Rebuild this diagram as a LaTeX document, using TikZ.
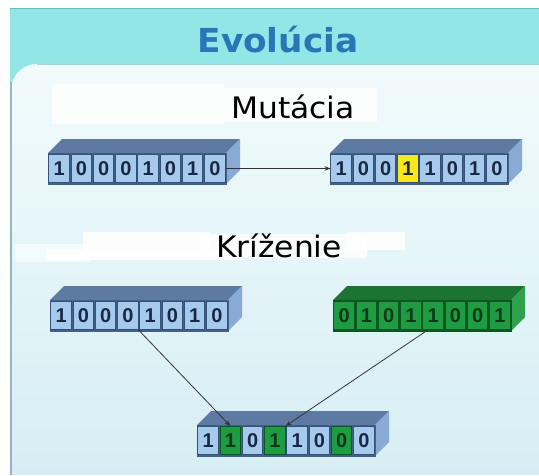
\documentclass[tikz,border=0pt]{standalone}
\usepackage{fontspec}
\setmainfont{DejaVu Sans}
\newfontfamily\digitfont{Liberation Sans}
\usetikzlibrary{arrows.meta,calc}

\definecolor{headteal}{RGB}{146,230,230}
\definecolor{headedge}{RGB}{108,188,198}
\definecolor{panelhi}{RGB}{242,251,252}
\definecolor{panello}{RGB}{214,238,243}
\definecolor{panelline}{RGB}{150,180,196}
\definecolor{titleblue}{RGB}{40,118,182}
\definecolor{cellblue}{RGB}{166,202,236}
\definecolor{celledge}{RGB}{52,80,118}
\definecolor{frameblue}{RGB}{66,96,136}
\definecolor{topblue}{RGB}{92,122,162}
\definecolor{sideblue}{RGB}{138,170,214}
\definecolor{digit}{RGB}{26,40,72}
\definecolor{cellgreen}{RGB}{30,156,66}
\definecolor{greenedge}{RGB}{12,86,34}
\definecolor{topgreen}{RGB}{28,116,50}
\definecolor{sidegreen}{RGB}{46,160,78}
\definecolor{greendigit}{RGB}{10,56,24}
\definecolor{cellyellow}{RGB}{246,232,28}

\tikzset{
  cell/.style={draw, line width=0.9pt, minimum width=20.4pt, minimum height=28pt,
    inner sep=0pt, font=\digitfont\fontsize{20}{20}\selectfont\bfseries},
  cb/.style={fill=cellblue, draw=celledge, text=digit},
  cy/.style={fill=cellyellow, draw=celledge, text=digit},
  cg/.style={fill=cellgreen, draw=greenedge, text=greendigit},
  conn/.style={draw=black!80, line width=0.8pt, -{Stealth[length=6pt,width=4.5pt]}},
  patch/.style={fill=white, opacity=0.85},
  heading/.style={anchor=base, font=\fontsize{29.6}{30}\selectfont, xscale=1.06}
}

% 3-D register: #1 name, #2 x, #3 y (front top-left), #4 top, #5 side, #6 frame, #7 bits
\newcommand\register[7]{%
  \fill[#4] (#2,#3) -- ++(14,-14) -- ++(178,0) -- ++(-14,14) -- cycle;
  \fill[#5] (#2+178,#3) -- ++(14,-14) -- ++(0,31) -- ++(-14,14) -- cycle;
  \draw[#6, fill=#6] (#2,#3) rectangle ++(178,31);
  \foreach \b/\c [count=\i] in {#7}
    \node[cell, \c] (#1\i) at ({#2+(\i-0.5)*22.25},{#3+15.5}) {\b};
}

\begin{document}
\begin{tikzpicture}[x=1pt, y=-1pt]
\useasboundingbox (0,0) rectangle (539,475);
\fill[white] (0,0) rectangle (539,475);

% header band and content panel
\fill[headteal] (10,8) rectangle (539,100);
\draw[headedge, line width=1pt] (10,8.5) -- (539,8.5);
\shade[top color=panelhi, bottom color=panello]
  (11,475) [rounded corners=26pt] -- (11,64) [sharp corners] -- (539,64) -- (539,475) -- cycle;
\draw[headedge!60, line width=0.8pt] (37,64) -- (539,64);
\draw[panelline, line width=1.5pt] (11,82) -- (11,475);

% white patches behind the headings
\fill[patch] (52,84) rectangle (224,124);
\fill[patch] (222,88) rectangle (377,122);
\fill[patch, opacity=0.6] (15,244) rectangle (90,262);
\fill[patch] (83,232) rectangle (210,256);
\fill[patch] (47,250) rectangle (242,260);
\fill[patch] (200,234) rectangle (367,258);
\fill[patch] (347,232) rectangle (405,250);

% headings
\node[anchor=base, text=titleblue, font=\fontsize{33}{34}\selectfont\bfseries, xscale=1.04]
  (title) at (278,52) {Evolúcia};
\node[heading] (mut) at (293,118) {Mutácia};
\node[heading] (kriz) at (279,257) {Kríženie};

% mutation
\register{A}{48}{153}{topblue}{sideblue}{frameblue}{1/cb,0/cb,0/cb,0/cb,1/cb,0/cb,1/cb,0/cb}
\register{B}{330}{153}{topblue}{sideblue}{frameblue}{1/cb,0/cb,0/cb,1/cy,1/cb,0/cb,1/cb,0/cb}
\draw[conn] (A8.east) -- (B1.west);

% crossover
\register{C}{50}{300}{topblue}{sideblue}{frameblue}{1/cb,0/cb,0/cb,0/cb,1/cb,0/cb,1/cb,0/cb}
\register{G}{333}{300}{topgreen}{sidegreen}{greenedge}{0/cg,1/cg,0/cg,1/cg,1/cg,0/cg,0/cg,1/cg}
\register{D}{197}{425}{topblue}{sideblue}{frameblue}{1/cb,1/cg,0/cb,1/cg,1/cb,0/cb,0/cg,0/cb}
\draw[conn] (C4.south east) -- (D2.north);
\draw[conn] ($(G5.south west)!0.25!(G5.south east)$) -- (D4.north east);
\end{tikzpicture}
\end{document}
